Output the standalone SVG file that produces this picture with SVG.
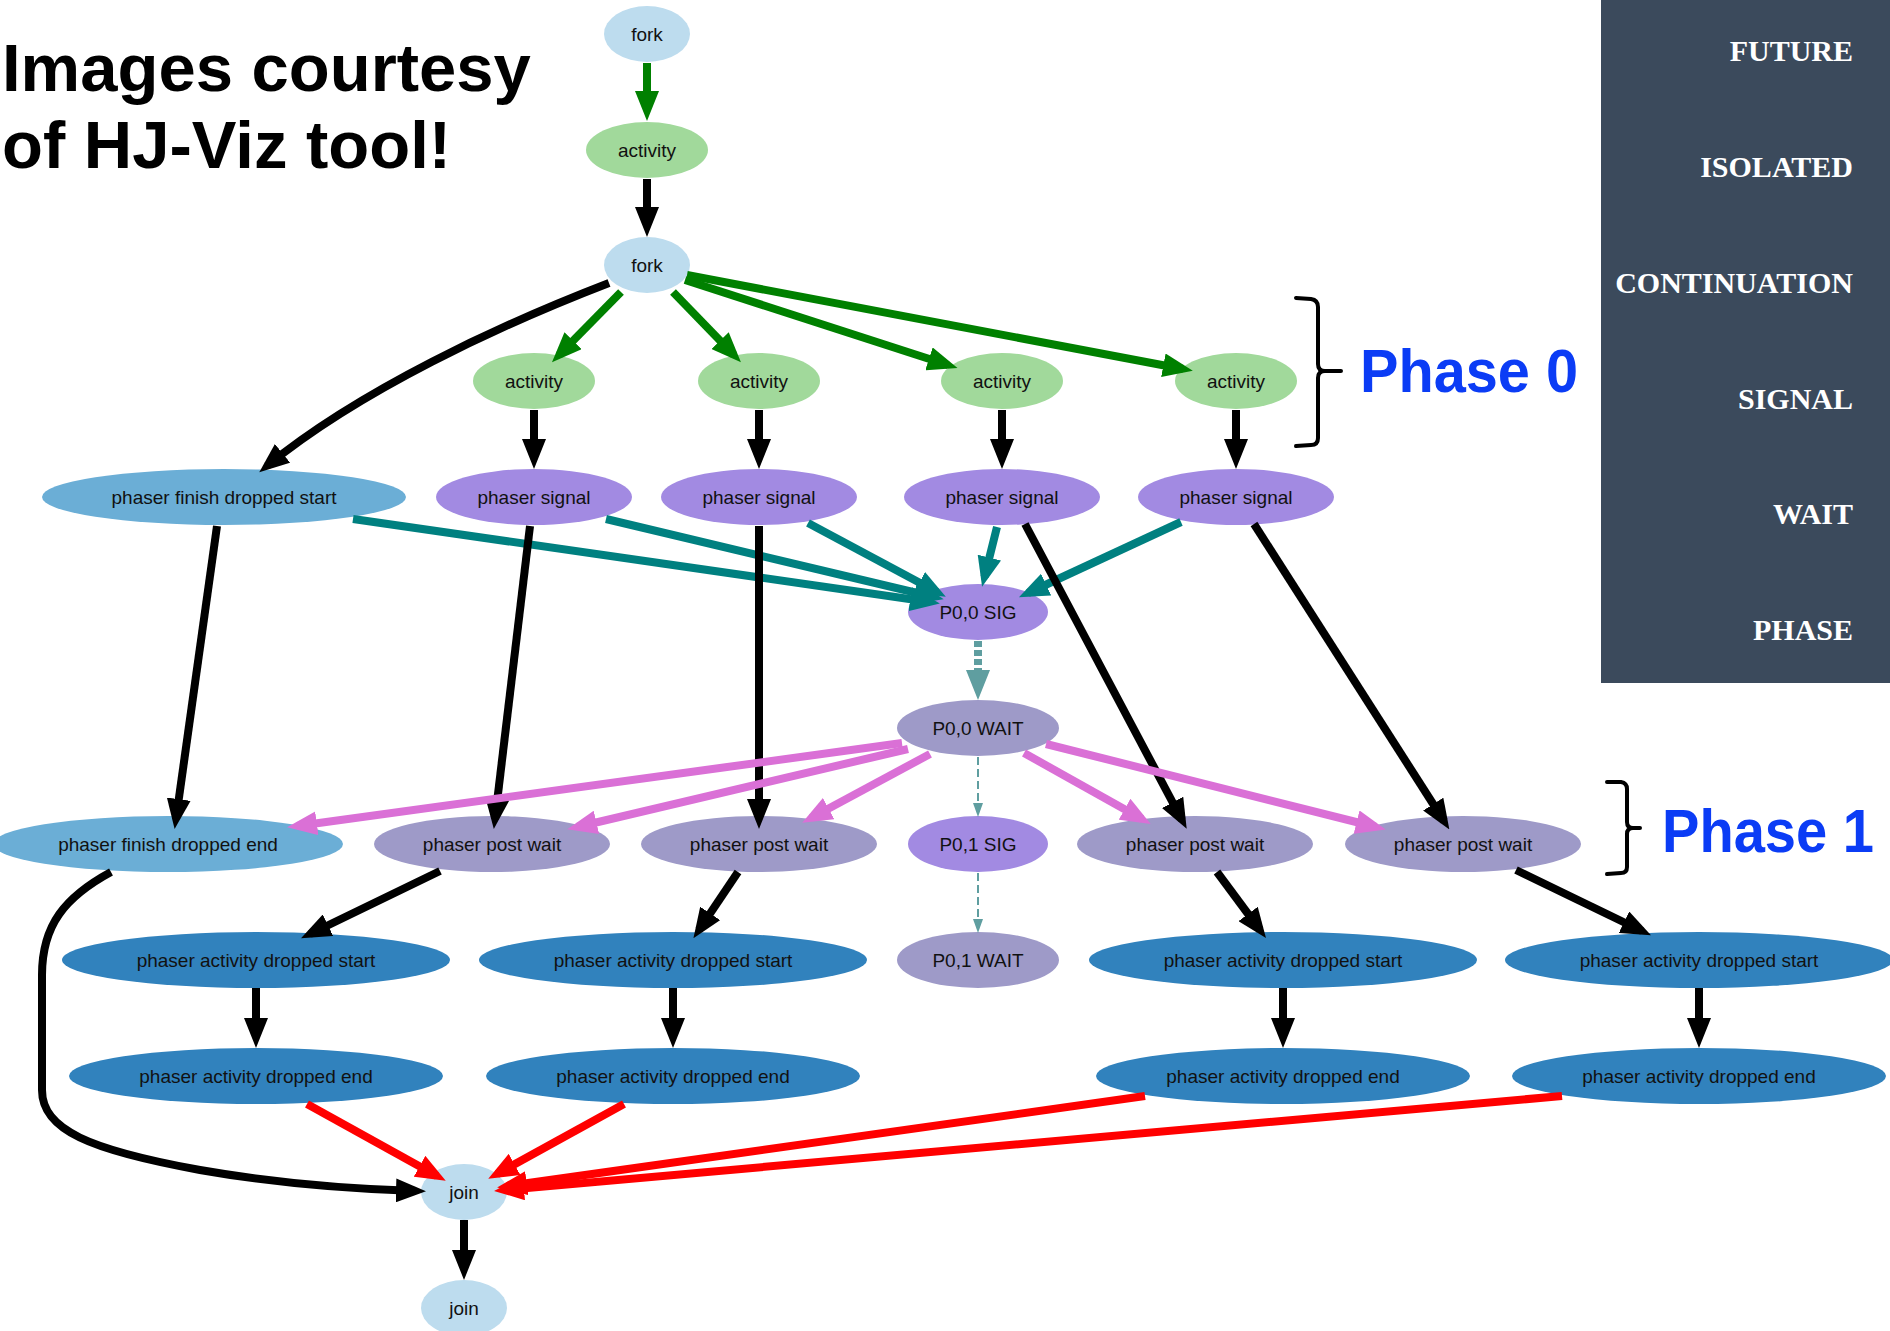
<svg xmlns="http://www.w3.org/2000/svg" width="1890" height="1331" viewBox="0 0 1890 1331">
  <style>
    .lbl { font-family: "Liberation Sans", Arial, sans-serif; font-size: 19px; fill: #111; text-anchor: middle; }
    .title { font-family: "Liberation Sans", Arial, sans-serif; font-size: 67px; font-weight: bold; fill: #000; }
    .legend { font-family: "Liberation Serif", "Times New Roman", serif; font-size: 30px; font-weight: bold; fill: #fff; text-anchor: end; }
    .phase { font-family: "Liberation Sans", Arial, sans-serif; font-size: 61px; font-weight: bold; fill: #0b3cf5; }
    .brace { fill: none; stroke: #000; stroke-width: 4; stroke-linecap: round; stroke-linejoin: round; }
    .e { fill: none; stroke-width: 8; stroke-linecap: butt; }
    .spawn { stroke: #008000; }
    .cont { stroke: #000; }
    .sig { stroke: #008080; }
    .wait { stroke: #da70d6; }
    .join { stroke: #ff0000; }
    .phz { stroke: #5f9ea0; stroke-dasharray: 6 3; }
    .phzthin { fill: none; stroke: #5f9ea0; stroke-width: 2; stroke-dasharray: 8 4; }
    .fork { fill: #bddcee; }
    .act { fill: #a1d99b; }
    .fin { fill: #6baed6; }
    .psig { fill: #a28ae2; }
    .pwait { fill: #9e9ac8; }
    .drop { fill: #3182bd; }
  </style>
  <defs>
    <marker id="ah-green" markerUnits="userSpaceOnUse" markerWidth="30" markerHeight="24" refX="20" refY="12" orient="auto"><path d="M0,0 L30,12 L0,24 z" fill="#008000"/></marker>
    <marker id="ah-black" markerUnits="userSpaceOnUse" markerWidth="30" markerHeight="24" refX="20" refY="12" orient="auto"><path d="M0,0 L30,12 L0,24 z" fill="#000"/></marker>
    <marker id="ah-teal" markerUnits="userSpaceOnUse" markerWidth="30" markerHeight="24" refX="20" refY="12" orient="auto"><path d="M0,0 L30,12 L0,24 z" fill="#008080"/></marker>
    <marker id="ah-orchid" markerUnits="userSpaceOnUse" markerWidth="30" markerHeight="24" refX="20" refY="12" orient="auto"><path d="M0,0 L30,12 L0,24 z" fill="#da70d6"/></marker>
    <marker id="ah-red" markerUnits="userSpaceOnUse" markerWidth="30" markerHeight="24" refX="20" refY="12" orient="auto"><path d="M0,0 L30,12 L0,24 z" fill="#ff0000"/></marker>
    <marker id="ah-cadet" markerUnits="userSpaceOnUse" markerWidth="30" markerHeight="24" refX="20" refY="12" orient="auto"><path d="M0,0 L30,12 L0,24 z" fill="#5f9ea0"/></marker>
    <marker id="ah-cadet-s" markerUnits="userSpaceOnUse" markerWidth="14" markerHeight="10" refX="12" refY="5" orient="auto"><path d="M0,0 L14,5 L0,10 z" fill="#5f9ea0"/></marker>
  </defs>

  <rect width="1890" height="1331" fill="#fff"/>

  <!-- heading -->
  <text class="title" x="2" y="91">Images courtesy</text>
  <text class="title" x="2" y="168">of HJ-Viz tool!</text>

  <!-- edge-kind legend -->
  <g id="legend">
    <rect x="1601" y="0" width="289" height="683" fill="#3b4a5c"/>
    <text class="legend" x="1853" y="61">FUTURE</text>
    <text class="legend" x="1853" y="177">ISOLATED</text>
    <text class="legend" x="1853" y="293">CONTINUATION</text>
    <text class="legend" x="1853" y="409">SIGNAL</text>
    <text class="legend" x="1853" y="524">WAIT</text>
    <text class="legend" x="1853" y="640">PHASE</text>
  </g>

  <!-- phase annotations -->
  <g id="phase0">
    <path class="brace" d="M1296,298 L1311,299 Q1318,300 1318,307 L1318,364 Q1318,371 1325,371 L1341,371 M1325,371 Q1318,371 1318,378 L1318,438 Q1318,445 1311,445 L1296,446"/>
    <text class="phase" x="1360" y="392" textLength="218" lengthAdjust="spacingAndGlyphs">Phase 0</text>
  </g>
  <g id="phase1">
    <path class="brace" d="M1607,782 L1621,782 Q1627,783 1627,789 L1627,822 Q1627,828 1633,828 L1640,828 M1633,828 Q1627,828 1627,834 L1627,867 Q1627,873 1621,873 L1607,874"/>
    <text class="phase" x="1662" y="852" textLength="212" lengthAdjust="spacingAndGlyphs">Phase 1</text>
  </g>

  <!-- nodes -->
  <g id="n-fork1"><ellipse class="fork" cx="647" cy="34" rx="43" ry="28"/><text class="lbl" x="647" y="41">fork</text></g>
  <g id="n-act0"><ellipse class="act" cx="647" cy="150" rx="61" ry="28"/><text class="lbl" x="647" y="157">activity</text></g>
  <g id="n-fork2"><ellipse class="fork" cx="647" cy="265" rx="43" ry="28"/><text class="lbl" x="647" y="272">fork</text></g>

  <g id="n-act1"><ellipse class="act" cx="534" cy="381" rx="61" ry="28"/><text class="lbl" x="534" y="388">activity</text></g>
  <g id="n-act2"><ellipse class="act" cx="759" cy="381" rx="61" ry="28"/><text class="lbl" x="759" y="388">activity</text></g>
  <g id="n-act3"><ellipse class="act" cx="1002" cy="381" rx="61" ry="28"/><text class="lbl" x="1002" y="388">activity</text></g>
  <g id="n-act4"><ellipse class="act" cx="1236" cy="381" rx="61" ry="28"/><text class="lbl" x="1236" y="388">activity</text></g>

  <g id="n-fin-start"><ellipse class="fin" cx="224" cy="497" rx="182" ry="28"/><text class="lbl" x="224" y="504">phaser finish dropped start</text></g>
  <g id="n-sig1"><ellipse class="psig" cx="534" cy="497" rx="98" ry="28"/><text class="lbl" x="534" y="504">phaser signal</text></g>
  <g id="n-sig2"><ellipse class="psig" cx="759" cy="497" rx="98" ry="28"/><text class="lbl" x="759" y="504">phaser signal</text></g>
  <g id="n-sig3"><ellipse class="psig" cx="1002" cy="497" rx="98" ry="28"/><text class="lbl" x="1002" y="504">phaser signal</text></g>
  <g id="n-sig4"><ellipse class="psig" cx="1236" cy="497" rx="98" ry="28"/><text class="lbl" x="1236" y="504">phaser signal</text></g>

  <g id="n-p00sig"><ellipse class="psig" cx="978" cy="612" rx="70" ry="28"/><text class="lbl" x="978" y="619">P0,0 SIG</text></g>
  <g id="n-p00wait"><ellipse class="pwait" cx="978" cy="728" rx="81" ry="28"/><text class="lbl" x="978" y="735">P0,0 WAIT</text></g>

  <g id="n-fin-end"><ellipse class="fin" cx="168" cy="844" rx="175" ry="28"/><text class="lbl" x="168" y="851">phaser finish dropped end</text></g>
  <g id="n-pw1"><ellipse class="pwait" cx="492" cy="844" rx="118" ry="28"/><text class="lbl" x="492" y="851">phaser post wait</text></g>
  <g id="n-pw2"><ellipse class="pwait" cx="759" cy="844" rx="118" ry="28"/><text class="lbl" x="759" y="851">phaser post wait</text></g>
  <g id="n-p01sig"><ellipse class="psig" cx="978" cy="844" rx="70" ry="28"/><text class="lbl" x="978" y="851">P0,1 SIG</text></g>
  <g id="n-pw3"><ellipse class="pwait" cx="1195" cy="844" rx="118" ry="28"/><text class="lbl" x="1195" y="851">phaser post wait</text></g>
  <g id="n-pw4"><ellipse class="pwait" cx="1463" cy="844" rx="118" ry="28"/><text class="lbl" x="1463" y="851">phaser post wait</text></g>

  <g id="n-ds1"><ellipse class="drop" cx="256" cy="960" rx="194" ry="28"/><text class="lbl" x="256" y="967">phaser activity dropped start</text></g>
  <g id="n-ds2"><ellipse class="drop" cx="673" cy="960" rx="194" ry="28"/><text class="lbl" x="673" y="967">phaser activity dropped start</text></g>
  <g id="n-p01wait"><ellipse class="pwait" cx="978" cy="960" rx="81" ry="28"/><text class="lbl" x="978" y="967">P0,1 WAIT</text></g>
  <g id="n-ds3"><ellipse class="drop" cx="1283" cy="960" rx="194" ry="28"/><text class="lbl" x="1283" y="967">phaser activity dropped start</text></g>
  <g id="n-ds4"><ellipse class="drop" cx="1699" cy="960" rx="194" ry="28"/><text class="lbl" x="1699" y="967">phaser activity dropped start</text></g>

  <g id="n-de1"><ellipse class="drop" cx="256" cy="1076" rx="187" ry="28"/><text class="lbl" x="256" y="1083">phaser activity dropped end</text></g>
  <g id="n-de2"><ellipse class="drop" cx="673" cy="1076" rx="187" ry="28"/><text class="lbl" x="673" y="1083">phaser activity dropped end</text></g>
  <g id="n-de3"><ellipse class="drop" cx="1283" cy="1076" rx="187" ry="28"/><text class="lbl" x="1283" y="1083">phaser activity dropped end</text></g>
  <g id="n-de4"><ellipse class="drop" cx="1699" cy="1076" rx="187" ry="28"/><text class="lbl" x="1699" y="1083">phaser activity dropped end</text></g>

  <g id="n-join1"><ellipse class="fork" cx="464" cy="1192" rx="43" ry="28"/><text class="lbl" x="464" y="1199">join</text></g>
  <g id="n-join2"><ellipse class="fork" cx="464" cy="1308" rx="43" ry="28"/><text class="lbl" x="464" y="1315">join</text></g>

  <!-- connectors, drawn over the nodes so arrowheads may overlap the ellipse rims -->
  <g id="edges">
    <!-- spawn -->
    <path class="e spawn" marker-end="url(#ah-green)" d="M647,63 L647,111"/>
    <path class="e spawn" marker-end="url(#ah-green)" d="M621,292 L559,355"/>
    <path class="e spawn" marker-end="url(#ah-green)" d="M673,292 L734,355"/>
    <path class="e spawn" marker-end="url(#ah-green)" d="M685,280 L948,365"/>
    <path class="e spawn" marker-end="url(#ah-green)" d="M687,275 L1183,369"/>
    <!-- continuation -->
    <path class="e cont" marker-end="url(#ah-black)" d="M647,179 L647,227"/>
    <path class="e cont" marker-end="url(#ah-black)" d="M609,283 C500,325 360,390 267,466"/>
    <path class="e cont" marker-end="url(#ah-black)" d="M534,410 L534,459"/>
    <path class="e cont" marker-end="url(#ah-black)" d="M759,410 L759,459"/>
    <path class="e cont" marker-end="url(#ah-black)" d="M1002,410 L1002,459"/>
    <path class="e cont" marker-end="url(#ah-black)" d="M1236,410 L1236,459"/>
    <!-- signals -->
    <path class="e sig" marker-end="url(#ah-teal)" d="M353,519 L930,602"/>
    <path class="e sig" marker-end="url(#ah-teal)" d="M606,519 L934,597"/>
    <path class="e sig" marker-end="url(#ah-teal)" d="M808,523 L937,592"/>
    <path class="e sig" marker-end="url(#ah-teal)" d="M997,527 L984.5,577"/>
    <path class="e sig" marker-end="url(#ah-teal)" d="M1181,522 L1028,593"/>
    <!-- continuation into phase 1 -->
    <path class="e cont" marker-end="url(#ah-black)" d="M217,526 L176,819"/>
    <path class="e cont" marker-end="url(#ah-black)" d="M530,526 L495,819"/>
    <path class="e cont" marker-end="url(#ah-black)" d="M759,526 L759,819"/>
    <path class="e cont" marker-end="url(#ah-black)" d="M1025,524 L1182,820"/>
    <path class="e cont" marker-end="url(#ah-black)" d="M1254,524 L1444,821"/>
    <!-- phase progression -->
    <path class="e phz" marker-end="url(#ah-cadet)" d="M978,641 L978,690"/>
    <path class="phzthin" marker-end="url(#ah-cadet-s)" d="M978,757 L978,815"/>
    <path class="phzthin" marker-end="url(#ah-cadet-s)" d="M978,873 L978,931"/>
    <!-- waits -->
    <path class="e wait" marker-end="url(#ah-orchid)" d="M902,743 L297,826"/>
    <path class="e wait" marker-end="url(#ah-orchid)" d="M908,749 L577,827"/>
    <path class="e wait" marker-end="url(#ah-orchid)" d="M930,754 L811,818"/>
    <path class="e wait" marker-end="url(#ah-orchid)" d="M1024,753 L1142,819"/>
    <path class="e wait" marker-end="url(#ah-orchid)" d="M1046,744 L1376,827"/>
    <!-- phase 1 activities -->
    <path class="e cont" marker-end="url(#ah-black)" d="M111,872 C65,897 42,925 42,975 L42,1090 C42,1130 90,1150 200,1170 C280,1184 350,1189 416,1191"/>
    <path class="e cont" marker-end="url(#ah-black)" d="M440,871 L310,934"/>
    <path class="e cont" marker-end="url(#ah-black)" d="M738,872 L699,930"/>
    <path class="e cont" marker-end="url(#ah-black)" d="M1217,872 L1260,930"/>
    <path class="e cont" marker-end="url(#ah-black)" d="M1516,870 L1642,931"/>
    <path class="e cont" marker-end="url(#ah-black)" d="M256,988 L256,1038"/>
    <path class="e cont" marker-end="url(#ah-black)" d="M673,988 L673,1038"/>
    <path class="e cont" marker-end="url(#ah-black)" d="M1283,988 L1283,1038"/>
    <path class="e cont" marker-end="url(#ah-black)" d="M1699,988 L1699,1038"/>
    <!-- joins -->
    <path class="e join" marker-end="url(#ah-red)" d="M307,1104 L437,1176"/>
    <path class="e join" marker-end="url(#ah-red)" d="M624,1104 L497,1174"/>
    <path class="e join" marker-end="url(#ah-red)" d="M1145,1096 L507,1186"/>
    <path class="e join" marker-end="url(#ah-red)" d="M1562,1096 L504,1190"/>
    <path class="e cont" marker-end="url(#ah-black)" d="M464,1220 L464,1270"/>
  </g>
</svg>
